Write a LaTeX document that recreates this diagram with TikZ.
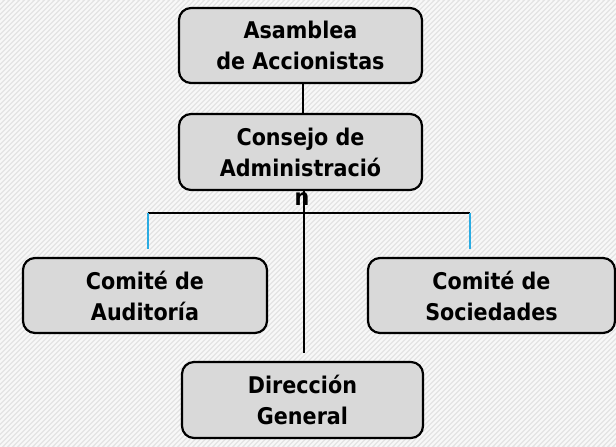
\documentclass[tikz,border=0pt]{standalone}
\usepackage{fontspec}
\setmainfont{DejaVu Sans Condensed}
\definecolor{boxfill}{HTML}{D9D9D9}
\definecolor{bgfill}{HTML}{E4E4E4}
\definecolor{stripe}{HTML}{F8F8F8}
\definecolor{linkblue}{HTML}{29ABE2}
\tikzset{
  orgbox/.style={draw=black, line width=2.2pt, rounded corners=12pt, fill=boxfill,
    align=center, font=\fontsize{23}{31}\selectfont\bfseries, inner sep=0pt},
  link/.style={draw=black, line width=1.5pt},
  bluelink/.style={draw=linkblue, line width=1.5pt}
}
\begin{document}
\begin{tikzpicture}[x=1pt,y=-1pt]
\useasboundingbox (0,0) rectangle (616,447);
\fill[bgfill] (0,0) rectangle (616,447);
\begin{scope}
\clip (0,0) rectangle (616,447);
\foreach \i in {-450,-445,...,620} {
  \draw[stripe, line width=1.8pt] (\i,447) -- (\i+447,0);
}
\end{scope}

\node[orgbox, minimum width=243pt, minimum height=75pt] (asamblea) at (300.5,45.5) {Asamblea\\de Accionistas};
\node[orgbox, minimum width=243pt, minimum height=76pt] (consejo) at (300.5,152) {Consejo de\\Administració};
\node[font=\fontsize{23}{31}\selectfont\bfseries, inner sep=0pt] (nletter) at (302,199) {n};
\node[orgbox, minimum width=244pt, minimum height=75pt] (auditoria) at (145,295.5) {Comité de\\Auditoría};
\node[orgbox, minimum width=247pt, minimum height=75pt] (sociedades) at (491.5,295.5) {Comité de\\Sociedades};
\node[orgbox, minimum width=241pt, minimum height=76pt] (direccion) at (302.5,400) {Dirección\\General};

\coordinate (hl) at (148,213);
\coordinate (hr) at (470,213);
\coordinate (bl) at (148,249);
\coordinate (br) at (470,249);
\coordinate (dtop) at (304,353);

\draw[link] (asamblea.south -| 303,0) -- (consejo.north -| 303,0);
\draw[link] (consejo.south -| dtop) -- (dtop);
\draw[link] (hl) -- (hr);
\draw[bluelink] (hl) -- (bl);
\draw[bluelink] (hr) -- (br);
\end{tikzpicture}
\end{document}
